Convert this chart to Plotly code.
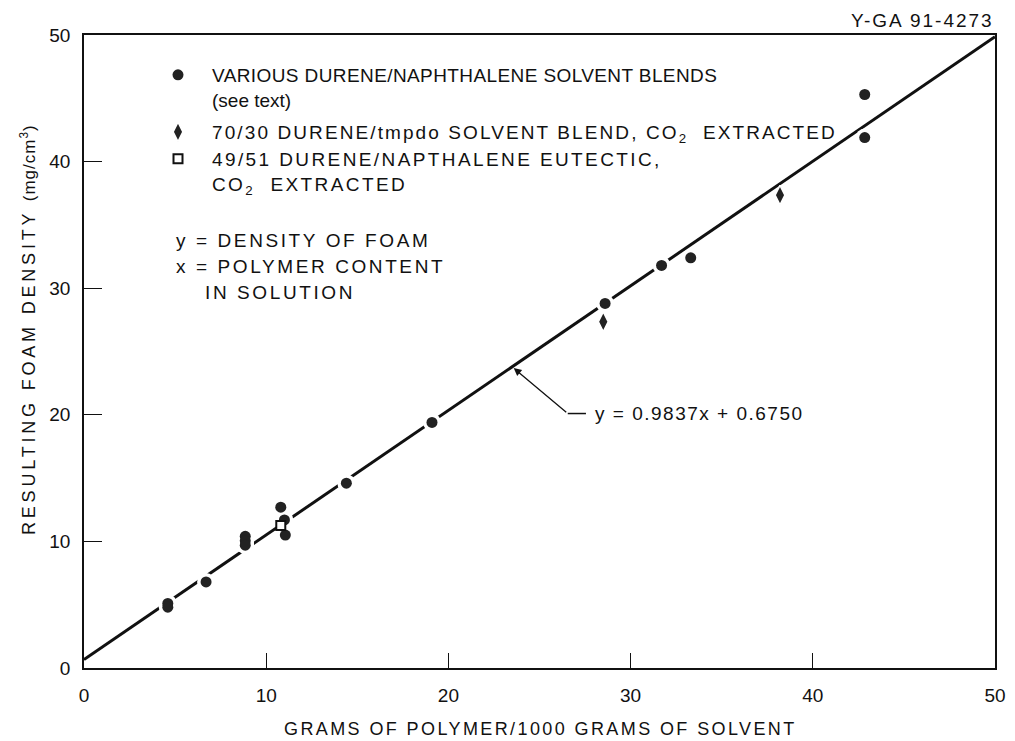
import plotly.graph_objects as go

# ---- data ----
blend_x = [4.6, 4.6, 6.7, 8.85, 8.85, 8.85, 10.8, 11.0, 11.05, 14.4, 19.1, 28.6, 31.7, 33.3, 42.85, 42.85]
blend_y = [5.1, 4.8, 6.8, 10.4, 10.05, 9.7, 12.7, 11.7, 10.5, 14.6, 19.4, 28.8, 31.8, 32.4, 45.3, 41.9]
tmpdo_x = [28.5, 38.2]
tmpdo_y = [27.35, 37.35]
eutectic_x = [10.8]
eutectic_y = [11.25]

fit_slope = 0.9837
fit_intercept = 0.6750
fit_x = [0, 50]
fit_y = [fit_slope * v + fit_intercept for v in fit_x]
arrow_x = 23.5

x_ticks = [0, 10, 20, 30, 40, 50]
y_ticks = [0, 10, 20, 30, 40, 50]

FONT = "Liberation Sans, Arial, Helvetica, sans-serif"
INK = "#111111"

fig = go.Figure()

fig.add_trace(go.Scatter(
    x=fit_x, y=fit_y, mode="lines",
    line=dict(color=INK, width=3), showlegend=False, hoverinfo="skip"))

# white halos that break the fit line around each point
fig.add_trace(go.Scatter(
    x=blend_x, y=blend_y, mode="markers", showlegend=False, hoverinfo="skip",
    marker=dict(symbol="circle", size=18, color="white", line=dict(width=0))))

fig.add_trace(go.Scatter(
    x=blend_x, y=blend_y, mode="markers",
    name="<span style='letter-spacing:0.4px'>VARIOUS DURENE/NAPHTHALENE SOLVENT BLENDS</span><br>(see text)",
    marker=dict(symbol="circle", size=11, color="#222222", line=dict(width=0)),
    legend="legend"))

fig.add_trace(go.Scatter(
    x=tmpdo_x, y=tmpdo_y, mode="markers",
    name="<span style='letter-spacing:2.1px'>70/30 DURENE/tmpdo SOLVENT BLEND, CO<sub>2</sub>  EXTRACTED</span>",
    marker=dict(symbol="diamond-tall", size=14, color="#222222",
                line=dict(color="white", width=1.5)),
    legend="legend2"))

fig.add_trace(go.Scatter(
    x=eutectic_x, y=eutectic_y, mode="markers",
    name="<span style='letter-spacing:2.4px'>49/51 DURENE/NAPTHALENE EUTECTIC,</span><br><span style='letter-spacing:2.4px'>CO<sub>2</sub>  EXTRACTED</span>",
    marker=dict(symbol="square", size=9, color="white",
                line=dict(color=INK, width=2)),
    legend="legend3"))

# page-pixel -> paper helpers (plot area spans x 84..995, y 35..668 on the page)
def px_x(p):
    return (p - 84) / 911.0

def px_y(p):
    return (668 - p) / 633.0

legend_common = dict(bgcolor="rgba(0,0,0,0)", borderwidth=0, xanchor="left",
                     yanchor="top", valign="top", itemclick=False, itemwidth=58)

fig.update_layout(
    legend=dict(x=px_x(144), y=px_y(56), font=dict(family=FONT, size=19, color=INK),
                **legend_common),
    legend2=dict(x=px_x(144), y=px_y(113), font=dict(family=FONT, size=19, color=INK),
                 **legend_common),
    legend3=dict(x=px_x(144), y=px_y(140), font=dict(family=FONT, size=19, color=INK),
                 **legend_common),
)

notes = [
    dict(text="y = DENSITY OF FOAM", x=px_x(174), y=px_y(240)),
    dict(text="x = POLYMER CONTENT", x=px_x(174), y=px_y(266)),
    dict(text="IN SOLUTION", x=px_x(203), y=px_y(292)),
]
for a in notes:
    fig.add_annotation(xref="paper", yref="paper", xanchor="left", yanchor="middle",
                       showarrow=False, font=dict(family=FONT, size=19, color=INK),
                       text="<span style='letter-spacing:2.6px'>" + a.pop("text") + "</span>", **a)

# equation label with leader
eq_x, eq_y = 27.95, 20.1
fig.add_annotation(x=eq_x, y=eq_y, xref="x", yref="y", xanchor="left", yanchor="middle",
                   text="<span style='letter-spacing:1.5px'>y = 0.9837x + 0.6750</span>",
                   showarrow=False, font=dict(family=FONT, size=19, color=INK))
fig.add_shape(type="line", xref="x", yref="y", x0=26.55, y0=eq_y, x1=27.55, y1=eq_y,
              line=dict(color=INK, width=1.5))
fig.add_annotation(x=arrow_x, y=fit_slope * arrow_x + fit_intercept, xref="x", yref="y",
                   ax=26.55, ay=eq_y, axref="x", ayref="y", text="",
                   showarrow=True, arrowhead=2, arrowsize=1.2, arrowwidth=1.3,
                   arrowcolor=INK, standoff=2)

fig.add_annotation(xref="paper", yref="paper", x=px_x(996), y=px_y(20),
                   xanchor="right", yanchor="middle", showarrow=False,
                   text="<span style='letter-spacing:2px'>Y-GA 91-4273</span>",
                   font=dict(family=FONT, size=19, color=INK))

# axis titles
fig.add_annotation(xref="paper", yref="paper", x=px_x(540), y=px_y(729),
                   xanchor="center", yanchor="middle", showarrow=False,
                   text="<span style='letter-spacing:2.4px'>GRAMS OF POLYMER/1000 GRAMS OF SOLVENT</span>",
                   font=dict(family=FONT, size=18, color=INK))
fig.add_annotation(xref="paper", yref="paper", x=px_x(28), y=px_y(330),
                   xanchor="center", yanchor="middle", showarrow=False, textangle=-90,
                   text="<span style='letter-spacing:3.8px'>RESULTING FOAM DENSITY </span><span style='font-size:17px;letter-spacing:1px'>(mg/cm<sup>3</sup>)</span>",
                   font=dict(family=FONT, size=18, color=INK))

fig.update_xaxes(
    range=[0, 50], tickvals=x_ticks, ticktext=[str(v) for v in x_ticks],
    ticks="inside", ticklen=15, tickwidth=1.3, tickcolor=INK,
    showline=True, linecolor=INK, linewidth=1.5, mirror=True,
    showgrid=False, zeroline=False, ticklabelstandoff=9,
    tickfont=dict(family=FONT, size=19, color=INK),
)
fig.update_yaxes(
    range=[0, 50], tickvals=y_ticks, ticktext=[str(v) for v in y_ticks],
    ticks="inside", ticklen=18, tickwidth=1.3, tickcolor=INK,
    showline=True, linecolor=INK, linewidth=1.5, mirror=True,
    showgrid=False, zeroline=False, ticklabelstandoff=8,
    tickfont=dict(family=FONT, size=19, color=INK),
)

# the page body adds an 8px offset, so the figure is 1007x733 with margins chosen
# so that the plot area lands on page pixels x 84..995 and y 35..668
fig.update_layout(
    width=1007, height=733,
    margin=dict(l=76, r=20, t=27, b=73, autoexpand=False),
    paper_bgcolor="white", plot_bgcolor="white",
    font=dict(family=FONT, color=INK),
)

fig.write_html("out.html")
